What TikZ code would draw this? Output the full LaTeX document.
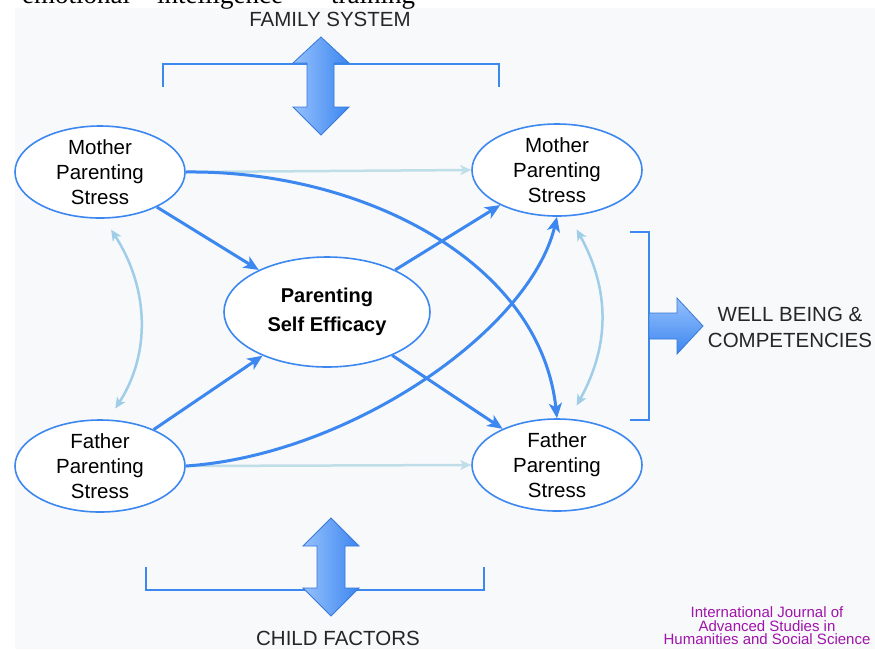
\documentclass[tikz,border=0pt]{standalone}
\usepackage{fontspec}
\setmainfont{Liberation Sans}
\newfontfamily\pageserif{Liberation Serif}
\usetikzlibrary{shapes.geometric, arrows.meta}
\definecolor{lineblue}{RGB}{60,135,240}
\definecolor{paleblue}{RGB}{160,205,232}
\definecolor{greyblue}{RGB}{192,222,232}
\definecolor{shadeblue}{RGB}{150,192,252}
\definecolor{journal}{RGB}{160,20,170}
\definecolor{backgrey}{RGB}{248,249,251}
\tikzset{
  stress/.style={ellipse, draw=lineblue, line width=1.6pt, fill=white, minimum width=170pt, minimum height=92pt, inner sep=0pt, align=center, font=\fontsize{20.5}{25}\selectfont},
  efficacy/.style={stress, minimum width=206pt, minimum height=110pt, font=\bfseries\fontsize{20}{29}\selectfont},
  heading/.style={font=\fontsize{20.5}{26}\selectfont, align=center, text=black!85},
  bracketline/.style={draw=lineblue, line width=1.8pt},
  bigarrow/.style={draw=lineblue!90!black, line width=0.8pt, left color=shadeblue, right color=lineblue},
  arrow/.style={draw=lineblue, line width=3pt, ->, >={Stealth[length=15pt, width=13pt, inset=4pt]}},
  softarrow/.style={draw=paleblue, line width=2.5pt, ->, >={Stealth[length=11pt, width=10pt, inset=3pt]}}
}
\begin{document}
\begin{tikzpicture}[x=1pt, y=-1pt]
        \useasboundingbox (0,0) rectangle (875,649);
        \fill[backgrey] (15,8) rectangle (875,649);

        % line of the page above, cut off
        \node (word1) [font=\pageserif\fontsize{27}{27}\selectfont, anchor=base] at (76,3) {emotional};
        \node (word2) [font=\pageserif\fontsize{27}{27}\selectfont, anchor=base] at (220,3) {intelligence};
        \node (word3) [font=\pageserif\fontsize{27}{27}\selectfont, anchor=base] at (373,3) {training};

        \node (mother1) [stress] at (100,172) {Mother\\Parenting\\Stress};
        \node (father1) [stress] at (100,466) {Father\\Parenting\\Stress};
        \node (mother2) [stress] at (557,170) {Mother\\Parenting\\Stress};
        \node (father2) [stress] at (557,465) {Father\\Parenting\\Stress};
        \node (efficacy1) [efficacy] at (327,312) {Parenting\\Self Efficacy};

        \node (family) [heading] at (330,19) {FAMILY SYSTEM};
        \node (child) [heading] at (338,638) {CHILD FACTORS};
        \node (wellbeing) [heading] at (790,327) {WELL BEING \&\\COMPETENCIES};
        \node (journal1) [font=\fontsize{15}{13.5}\selectfont, text=journal, align=center] at (767,626) {International Journal of\\Advanced Studies in\\Humanities and Social Science};

        % brackets
        \draw[bracketline] (163,87) -- (163,64) -- (499,64) -- (499,87);
        \draw[bracketline] (146,567) -- (146,590) -- (484,590) -- (484,567);
        \draw[bracketline] (630,232) -- (649,232) -- (649,420) -- (630,420);

        % big arrows
        \path[bigarrow] (321,37) -- (349,63) -- (334,63) -- (334,107) -- (349,107) -- (321,135) -- (293,107) -- (307,107) -- (307,63) -- (293,63) -- cycle;
        \path[bigarrow] (331,518) -- (359,546) -- (345,546) -- (345,588) -- (359,588) -- (331,616) -- (303,588) -- (317,588) -- (317,546) -- (303,546) -- cycle;
        \path[bigarrow, top color=shadeblue, bottom color=lineblue] (649,313) -- (677,313) -- (677,298) -- (703,326) -- (677,354) -- (677,339) -- (649,339) -- cycle;

        % pale straight arrows
        \draw[softarrow, draw=greyblue] (mother1.east) -- (mother2.west);
        \draw[softarrow, draw=greyblue] (father1.east) -- (father2.west);

        % to and from efficacy
        \draw[arrow] (mother1) -- (efficacy1);
        \draw[arrow] (father1) -- (efficacy1);
        \draw[arrow] (efficacy1) -- (mother2);
        \draw[arrow] (efficacy1) -- (father2);

        % long curves across
        \draw[arrow] (mother1.east) .. controls (360,170) and (540,260) .. (father2.north);
        \draw[arrow] (father1.east) .. controls (350,455) and (530,330) .. (mother2.south);

        % mother and father pairs
        \draw[softarrow, <->, shorten <=13pt, shorten >=13pt] (mother1.-85) .. controls (150,290) and (150,355) .. (father1.80);
        \draw[softarrow, <->, shorten <=15pt, shorten >=15pt] (mother2.-75) .. controls (610,290) and (610,345) .. (father2.75);

    \end{tikzpicture}
\end{document}
